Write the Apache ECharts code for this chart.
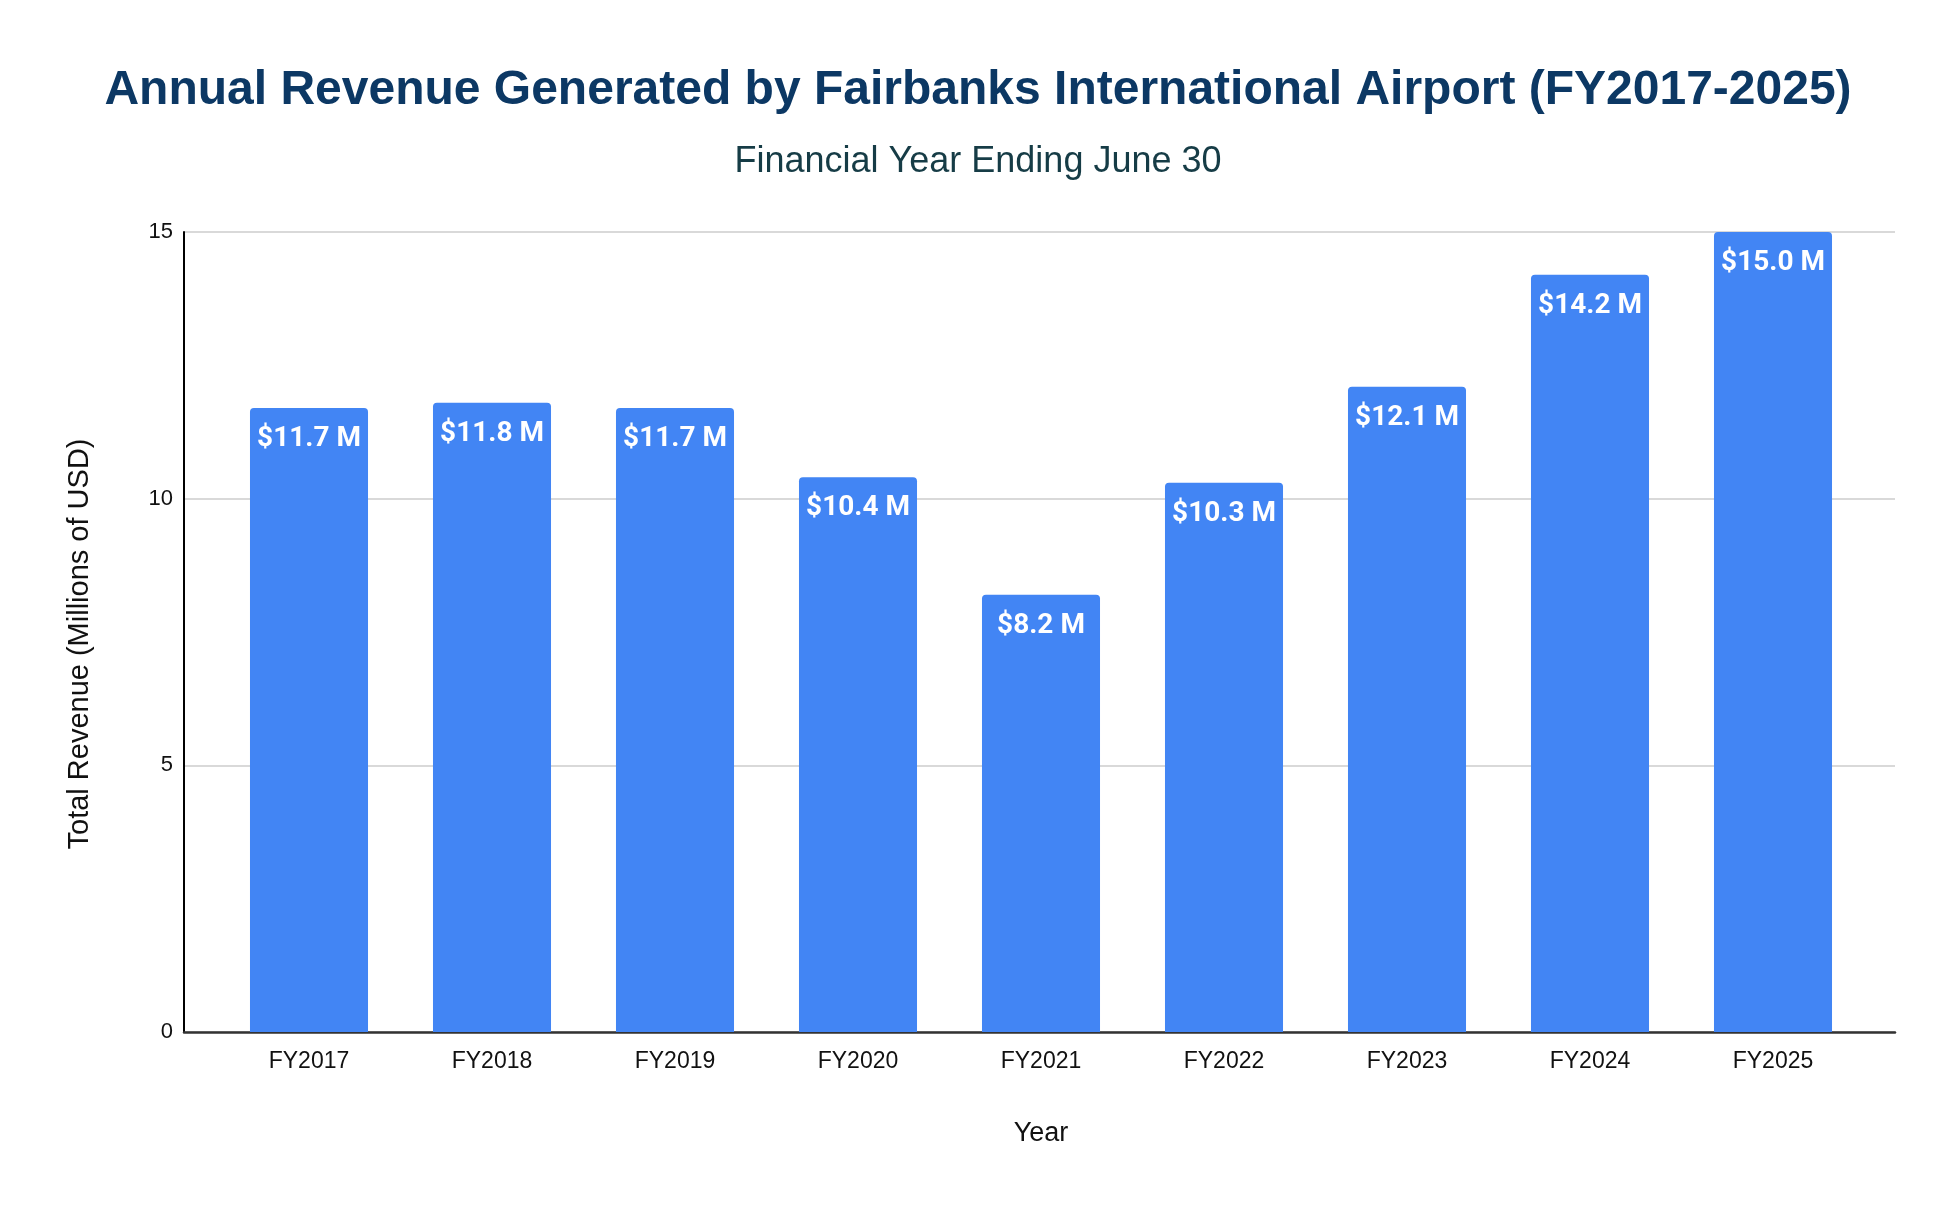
<!DOCTYPE html>
<html>
<head>
<meta charset="utf-8">
<script src="https://cdn.jsdelivr.net/npm/echarts@6/dist/echarts.min.js"></script>
<style>
html,body{margin:0;padding:0;background:#fff;}
#chart{width:1956px;height:1208px;}
</style>
</head>
<body>
<div id="chart"></div>
<script>
const categories = ['FY2017','FY2018','FY2019','FY2020','FY2021','FY2022','FY2023','FY2024','FY2025'];
const revenue = [11.7, 11.8, 11.7, 10.4, 8.2, 10.3, 12.1, 14.2, 15.0];
const yTicks = [0, 5, 10, 15];

const chart = echarts.init(document.getElementById('chart'));
const font = '"Liberation Sans", Arial, sans-serif';
chart.setOption({
  backgroundColor: '#ffffff',
  animation: false,
  title: [
    {
      text: 'Annual Revenue Generated by Fairbanks International Airport (FY2017-2025)',
      left: 'center', top: 62,
      textStyle: { fontFamily: font, fontSize: 48, fontWeight: 'bold', color: '#0c3864' }
    },
    {
      text: 'Financial Year Ending June 30',
      left: 'center', top: 139,
      textStyle: { fontFamily: font, fontSize: 36, fontWeight: 'normal', color: '#163c46' }
    }
  ],
  grid: [
    { left: 184, right: 61, top: 232, bottom: 176 },
    { left: 217.5, right: 91.5, top: 232, bottom: 176 }
  ],
  xAxis: [
    {
      gridIndex: 0, type: 'value', min: 0, max: 1,
      axisLine: { show: true, lineStyle: { color: '#333333', width: 2.5 } },
      axisTick: { show: false }, axisLabel: { show: false }, splitLine: { show: false }
    },
    {
      gridIndex: 1, type: 'category', data: categories,
      axisLine: { show: false }, axisTick: { show: false },
      axisLabel: { fontFamily: font, fontSize: 23, color: '#111111', margin: 18 },
      name: 'Year', nameLocation: 'middle', nameGap: 88,
      nameTextStyle: { fontFamily: font, fontSize: 27, color: '#111111' }
    }
  ],
  yAxis: [
    {
      gridIndex: 0, type: 'value', min: yTicks[0], max: yTicks[yTicks.length - 1],
      interval: yTicks[1] - yTicks[0],
      axisLine: { show: true, lineStyle: { color: '#000000', width: 2 } },
      axisTick: { show: false },
      axisLabel: { fontFamily: font, fontSize: 22, color: '#111111', margin: 11 },
      splitLine: { show: true, lineStyle: { color: '#cccccc', width: 1.5 } },
      name: 'Total Revenue (Millions of USD)', nameLocation: 'middle', nameGap: 90,
      nameTextStyle: { fontFamily: font, fontSize: 29, color: '#111111', padding: [0, 24, 0, 0] }
    },
    {
      gridIndex: 1, type: 'value', min: yTicks[0], max: yTicks[yTicks.length - 1],
      show: false
    }
  ],
  series: [
    {
      type: 'bar',
      xAxisIndex: 1, yAxisIndex: 1,
      data: revenue,
      barCategoryGap: '35.5%',
      itemStyle: { color: '#4285f4', borderRadius: [4, 4, 0, 0] },
      label: {
        show: true, position: 'insideTop', distance: 17,
        formatter: p => '$' + p.value.toFixed(1) + ' M',
        fontFamily: 'Roboto, sans-serif', fontWeight: 'bold', fontSize: 28, color: '#ffffff'
      }
    }
  ]
});
</script>
</body>
</html>
